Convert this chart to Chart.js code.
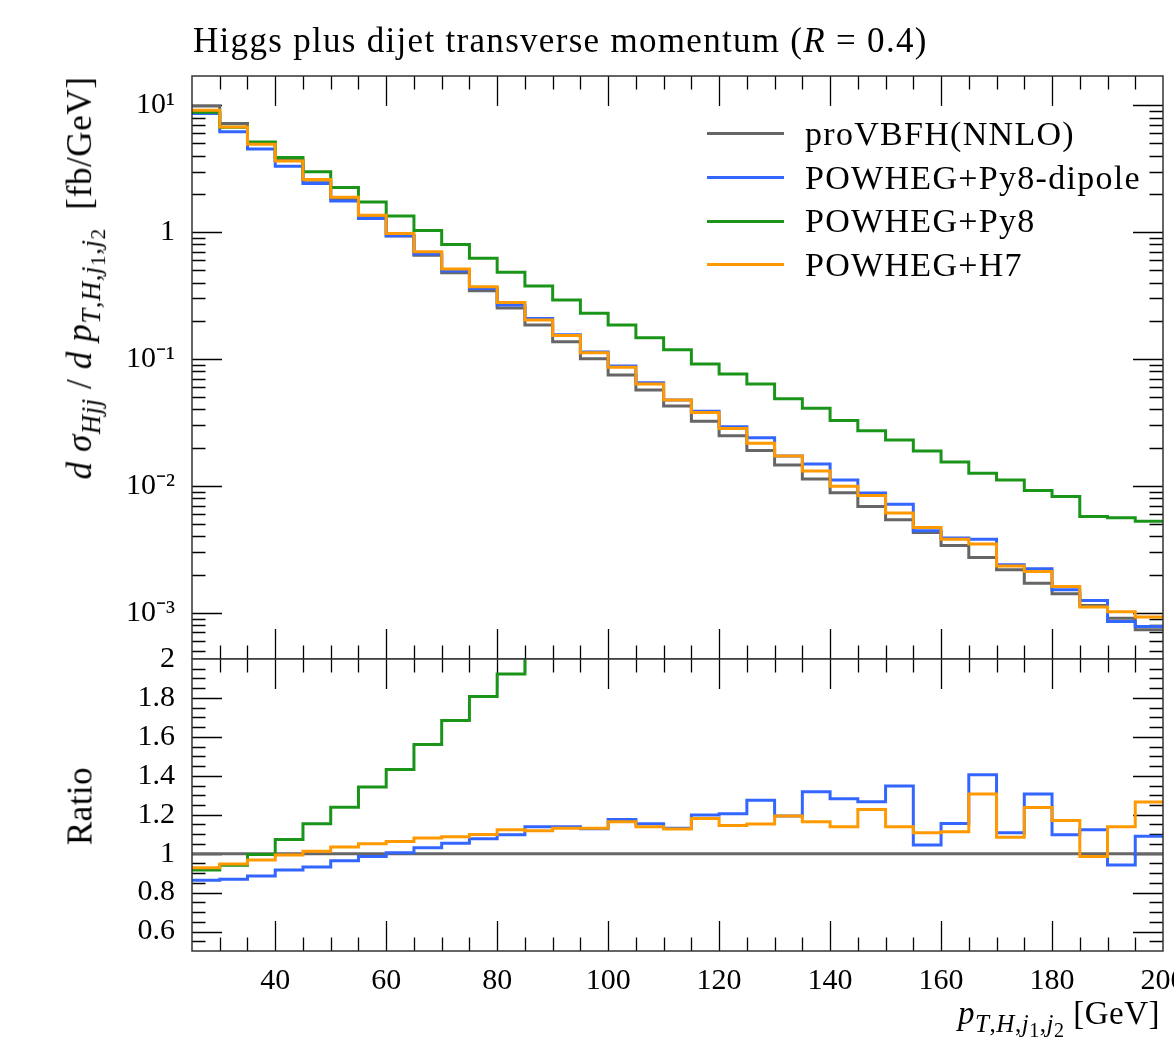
<!DOCTYPE html>
<html>
<head>
<meta charset="utf-8">
<title>Higgs plus dijet transverse momentum</title>
<script src="https://cdn.jsdelivr.net/npm/chart.js@4.4.1/dist/chart.umd.min.js"></script>
<style>
  html, body { margin: 0; padding: 0; background: #fff; }
  body { position: relative; width: 1174px; height: 1046px; overflow: hidden; font-family: "Liberation Serif", serif; color: #000; }
  canvas { position: absolute; left: 0; }
  #mainChart { top: 0; }
  #ratioChart { top: 629px; }
  .txt { position: absolute; white-space: nowrap; line-height: 1; }
  .txt sub { font-size: 0.76em; vertical-align: -0.32em; line-height: 0; }
  .txt sub sub { font-size: 0.8em; vertical-align: -0.25em; }
  #title { left: 193px; top: 23px; font-size: 35px; letter-spacing: 1.3px; }
  #yTitle { left: 80px; top: 278px; font-size: 35px; letter-spacing: 0.6px; transform: translate(-50%, -50%) rotate(-90deg); }
  #ratioTitle { left: 80px; top: 806px; font-size: 35px; letter-spacing: 0.5px; transform: translate(-50%, -50%) rotate(-90deg); }
  #xTitle { right: 14px; top: 997px; font-size: 33px; letter-spacing: 0.5px; }
  #legend { position: absolute; left: 707px; top: 112px; }
  .row { display: flex; align-items: center; height: 43.7px; }
  .row .swatch { width: 77px; height: 3px; margin-right: 21px; }
  .row .name { font-size: 34px; line-height: 43.7px; letter-spacing: 1.3px; }
</style>
</head>
<body>
<canvas id="mainChart" width="1174" height="659"></canvas>
<canvas id="ratioChart" width="1174" height="417"></canvas>

<div id="title" class="txt">Higgs plus dijet transverse momentum (<i>R</i> = 0.4)</div>
<div id="yTitle" class="txt"><i>d</i> <i>σ</i><sub><i>Hjj</i></sub> / <i>d</i> <i>p</i><sub><i>T</i>,<i>H</i>,<i>j</i><sub>1</sub>,<i>j</i><sub>2</sub></sub> &nbsp;[fb/GeV]</div>
<div id="ratioTitle" class="txt">Ratio</div>
<div id="xTitle" class="txt"><i>p</i><sub><i>T</i>,<i>H</i>,<i>j</i><sub>1</sub>,<i>j</i><sub>2</sub></sub> [GeV]</div>
<div id="legend"></div>

<script>
// ビン境界 (GeV)
const binEdges = [25, 30, 35, 40, 45, 50, 55, 60, 65, 70, 75, 80, 85, 90, 95, 100, 105, 110, 115, 120,
                  125, 130, 135, 140, 145, 150, 155, 160, 165, 170, 175, 180, 185, 190, 195, 200];

// 系列名と色
const seriesNames = ["proVBFH(NNLO)", "POWHEG+Py8-dipole", "POWHEG+Py8", "POWHEG+H7"];
const seriesColors = ["#666666", "#3366ff", "#1a951a", "#ff9900"];

// dσ/dpT [fb/GeV]
const nnloMain = [9.87, 7.18, 5.05, 3.67, 2.56, 1.84, 1.30, 0.93, 0.656, 0.479, 0.345, 0.252, 0.185, 0.137, 0.1005, 0.0748, 0.0570, 0.0426,
                  0.0323, 0.0248, 0.0190, 0.0146, 0.01135, 0.00881, 0.00687, 0.00540, 0.00429, 0.00339, 0.00272, 0.00218, 0.00171,
                  0.00141, 0.00114, 0.000907, 0.000735];
const dipoleMain = [8.60, 6.17, 4.51, 3.31, 2.42, 1.76, 1.28, 0.935, 0.671, 0.493, 0.360, 0.266, 0.209, 0.155, 0.1135, 0.0881, 0.0650, 0.0476,
                    0.0387, 0.0293, 0.0239, 0.0172, 0.0149, 0.01114, 0.00877, 0.00718, 0.00442, 0.00388, 0.00380, 0.00239, 0.00222,
                    0.00152, 0.00125, 0.000853, 0.000780];
const py8Main = [8.81, 6.71, 5.14, 3.87, 2.99, 2.25, 1.73, 1.34, 1.03, 0.800, 0.621, 0.482, 0.376, 0.292, 0.229, 0.185, 0.147, 0.118,
                 0.0914, 0.0762, 0.0636, 0.0487, 0.0409, 0.0327, 0.0272, 0.0230, 0.0188, 0.0154, 0.0126, 0.0111, 0.00918,
                 0.00824, 0.00573, 0.00560, 0.00527];
const h7Main = [9.14, 6.75, 4.93, 3.64, 2.60, 1.88, 1.36, 0.977, 0.700, 0.512, 0.371, 0.279, 0.203, 0.153, 0.112, 0.0861, 0.0636, 0.0476,
                0.0378, 0.0283, 0.0217, 0.0172, 0.0131, 0.00991, 0.00839, 0.00610, 0.00470, 0.00380, 0.00349, 0.00234, 0.00211,
                0.00161, 0.00111, 0.00102, 0.000925];

// 比 (対 proVBFH)
const nnloRatio = [1, 1, 1, 1, 1, 1, 1, 1, 1, 1, 1, 1, 1, 1, 1, 1, 1, 1, 1, 1, 1, 1, 1, 1, 1, 1, 1, 1, 1, 1, 1, 1, 1, 1, 1];
const dipoleRatio = [0.863, 0.868, 0.885, 0.916, 0.931, 0.964, 0.985, 1.005, 1.031, 1.053, 1.077, 1.097, 1.138, 1.138, 1.128, 1.176, 1.154,
                     1.130, 1.198, 1.205, 1.275, 1.193, 1.318, 1.282, 1.267, 1.347, 1.044, 1.155, 1.405, 1.108, 1.306, 1.097,
                     1.123, 0.942, 1.090];
const py8Ratio = [0.916, 0.940, 0.996, 1.073, 1.154, 1.239, 1.343, 1.432, 1.561, 1.684, 1.808, 1.923, 2.03, 2.13, 2.28, 2.47, 2.58, 2.77,
                  2.83, 3.07, 3.35, 3.34, 3.60, 3.71, 3.96, 4.26, 4.38, 4.54, 4.63, 5.09, 5.37, 5.84, 5.03, 6.17, 7.17];
const h7Ratio = [0.928, 0.947, 0.967, 0.993, 1.012, 1.034, 1.051, 1.062, 1.080, 1.087, 1.099, 1.123, 1.118, 1.130, 1.130, 1.164, 1.138,
                 1.127, 1.181, 1.145, 1.152, 1.193, 1.164, 1.138, 1.227, 1.138, 1.108, 1.113, 1.306, 1.084, 1.237, 1.171,
                 0.986, 1.138, 1.265];

// 目盛ラベル
const xTickValues = [40, 60, 80, 100, 120, 140, 160, 180, 200];
const xTickLabels = ["40", "60", "80", "100", "120", "140", "160", "180", "200"];
const mainTickValues = [1e-3, 1e-2, 1e-1, 1, 10];
const mainTickLabels = ["10⁻³", "10⁻²", "10⁻¹", "1", "10¹"];
const ratioTickValues = [0.6, 0.8, 1, 1.2, 1.4, 1.6, 1.8, 2];
const ratioTickLabels = ["0.6", "0.8", "1", "1.2", "1.4", "1.6", "1.8", "2"];

const FONT = "'Liberation Serif', serif";

// ヒストグラム用の階段点列
function steps(vals) {
  const pts = vals.map((v, i) => ({ x: binEdges[i], y: v }));
  pts.push({ x: binEdges[vals.length], y: vals[vals.length - 1] });
  return pts;
}

function makeDatasets(list) {
  // 描画順: H7 が一番上
  const order = [4, 3, 2, 1];
  return list.map((vals, i) => ({
    label: seriesNames[i],
    data: steps(vals),
    borderColor: seriesColors[i],
    borderWidth: 3,
    pointRadius: 0,
    stepped: "before",
    tension: 0,
    fill: false,
    clip: 0,
    order: order[i]
  }));
}

// 目盛位置リスト
const xTicks = [];
for (let v = binEdges[1]; v < binEdges[binEdges.length - 1]; v += 5) {
  xTicks.push({ v, major: v % 20 === 0 });
}
const logTicks = [];
for (let n = -4; n <= 1; n++) {
  for (let k = 1; k <= 9; k++) logTicks.push({ v: k * Math.pow(10, n), major: k === 1 });
}
const ratioTicks = [];
for (let i = 11; i < 40; i++) {
  ratioTicks.push({ v: i * 0.05, major: i % 4 === 0 });
}

// 内向き目盛と枠
const innerTicks = {
  id: "innerTicks",
  beforeDatasetsDraw(chart, args, opts) {
    const { ctx, chartArea: a } = chart;
    const xs = chart.scales.x, ys = chart.scales.y;
    ctx.save();
    ctx.strokeStyle = "#000";
    ctx.lineWidth = 1.3;
    ctx.beginPath();
    xTicks.forEach(t => {
      const px = Math.round(xs.getPixelForValue(t.v)) + 0.5;
      const len = t.major ? 30 : 13.5;
      ctx.moveTo(px, a.top); ctx.lineTo(px, a.top + len);
      ctx.moveTo(px, a.bottom); ctx.lineTo(px, a.bottom - len);
    });
    opts.yTicks.forEach(t => {
      if (t.v <= ys.min || t.v >= ys.max) return;
      const py = Math.round(ys.getPixelForValue(t.v)) + 0.5;
      const len = t.major ? 30 : 13.5;
      ctx.moveTo(a.left, py); ctx.lineTo(a.left + len, py);
      ctx.moveTo(a.right, py); ctx.lineTo(a.right - len, py);
    });
    ctx.stroke();
    ctx.restore();
  },
  afterDatasetsDraw(chart) {
    const { ctx, chartArea: a } = chart;
    ctx.save();
    ctx.strokeStyle = "#333";
    ctx.lineWidth = 1.5;
    ctx.strokeRect(a.left, a.top, a.right - a.left, a.bottom - a.top);
    ctx.restore();
  }
};

const tickFont = { family: FONT, size: 30 };

// y軸の幅を固定し、端ラベル分の余白を消す
function fixY(s) {
  s.width = 192;
  s.paddingTop = 0;
  s.paddingBottom = 0;
}

const mainChart = new Chart(document.getElementById("mainChart"), {
  type: "line",
  data: { datasets: makeDatasets([nnloMain, dipoleMain, py8Main, h7Main]) },
  plugins: [innerTicks],
  options: {
    responsive: false,
    animation: false,
    layout: { padding: { top: 76, right: 11, bottom: 0, left: 0 } },
    plugins: { legend: { display: false }, tooltip: { enabled: false }, innerTicks: { yTicks: logTicks } },
    scales: {
      x: { type: "linear", min: 25, max: 200, display: false },
      y: {
        type: "logarithmic",
        min: 4.32e-4,
        max: 17.0,
        grid: { display: false, drawTicks: false },
        border: { display: false },
        afterBuildTicks: s => { s.ticks = mainTickValues.map(v => ({ value: v })); },
        afterFit: fixY,
        ticks: {
          autoSkip: false,
          padding: 17,
          color: "#000",
          font: tickFont,
          callback: (v, i) => mainTickLabels[i]
        }
      }
    }
  }
});

const ratioChart = new Chart(document.getElementById("ratioChart"), {
  type: "line",
  data: { datasets: makeDatasets([nnloRatio, dipoleRatio, py8Ratio, h7Ratio]) },
  plugins: [innerTicks],
  options: {
    responsive: false,
    animation: false,
    layout: { padding: { top: 30, right: 11, bottom: 0, left: 0 } },
    plugins: { legend: { display: false }, tooltip: { enabled: false }, innerTicks: { yTicks: ratioTicks } },
    scales: {
      x: {
        type: "linear",
        min: 25,
        max: 200,
        grid: { display: false, drawTicks: false },
        border: { display: false },
        afterBuildTicks: s => { s.ticks = xTickValues.map(v => ({ value: v })); },
        afterFit: s => { s.height = 95; s.paddingLeft = 0; s.paddingRight = 0; },
        ticks: {
          autoSkip: false,
          maxRotation: 0,
          padding: 12,
          color: "#000",
          font: tickFont,
          callback: (v, i) => xTickLabels[i]
        }
      },
      y: {
        type: "linear",
        min: 0.5,
        max: 2,
        grid: { display: false, drawTicks: false },
        border: { display: false },
        afterBuildTicks: s => { s.ticks = ratioTickValues.map(v => ({ value: v })); },
        afterFit: fixY,
        ticks: {
          autoSkip: false,
          padding: 17,
          color: "#000",
          font: tickFont,
          callback: (v, i) => ratioTickLabels[i]
        }
      }
    }
  }
});

// 凡例
const legendEl = document.getElementById("legend");
seriesNames.forEach((name, i) => {
  const row = document.createElement("div");
  row.className = "row";
  row.innerHTML = `<span class="swatch" style="background:${seriesColors[i]}"></span><span class="name">${name}</span>`;
  legendEl.appendChild(row);
});
</script>
</body>
</html>
